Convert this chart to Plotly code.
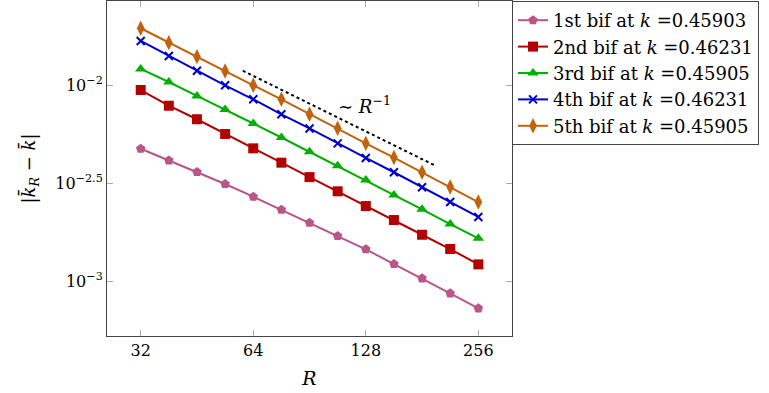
import numpy as np
import plotly.graph_objects as go

R = [32, 38.05, 45.25, 53.82, 64, 76.11, 90.51, 107.63, 128, 152.22, 181.02, 215.27, 256]

bif1 = [4.75e-3, 4.14e-3, 3.61e-3, 3.134e-3, 2.70e-3, 2.316e-3, 1.987e-3, 1.699e-3, 1.453e-3, 1.222e-3, 1.032e-3, 8.65e-4, 7.25e-4]
bif2 = [9.48e-3, 7.88e-3, 6.72e-3, 5.65e-3, 4.77e-3, 4.03e-3, 3.40e-3, 2.876e-3, 2.418e-3, 2.051e-3, 1.725e-3, 1.458e-3, 1.217e-3]
bif3 = [1.215e-2, 1.042e-2, 8.84e-3, 7.54e-3, 6.39e-3, 5.42e-3, 4.58e-3, 3.89e-3, 3.285e-3, 2.754e-3, 2.326e-3, 1.957e-3, 1.654e-3]
bif4 = [1.689e-2, 1.415e-2, 1.190e-2, 1.0024e-2, 8.50e-3, 7.12e-3, 6.03e-3, 5.06e-3, 4.26e-3, 3.60e-3, 3.015e-3, 2.535e-3, 2.126e-3]
bif5 = [1.962e-2, 1.656e-2, 1.404e-2, 1.186e-2, 1.0024e-2, 8.50e-3, 7.13e-3, 6.04e-3, 5.06e-3, 4.28e-3, 3.60e-3, 3.026e-3, 2.535e-3]

labels = ["1st bif at <i>k</i> =0.45903", "2nd bif at <i>k</i> =0.46231",
          "3rd bif at <i>k</i> =0.45905", "4th bif at <i>k</i> =0.46231",
          "5th bif at <i>k</i> =0.45905"]

ref_R = [60, 197]
ref_y = [0.0119, 0.00388]

x_tick_vals = [32, 64, 128, 256]
x_tick_text = ["32", "64", "128", "256"]
y_tick_vals = [1e-3, 10 ** -2.5, 1e-2]
y_tick_text = ["10<sup>−3</sup>", "10<sup>−2.5</sup>", "10<sup>−2</sup>"]

colors = ["#BB5588", "#B30000", "#00B000", "#0000CC", "#C2620F"]
symbols = ["pentagon", "square", "triangle-up", "x-thin", "diamond-tall"]
sizes = [10, 10, 10, 8, 11]

FONT = "DejaVu Serif"

fig = go.Figure()
for ys, lab, c, s, sz in zip([bif1, bif2, bif3, bif4, bif5], labels, colors, symbols, sizes):
    mk = dict(symbol=s, size=sz, color=c)
    if s == "x-thin":
        mk["line"] = dict(color=c, width=2)
    fig.add_trace(go.Scatter(x=R, y=ys, mode="lines+markers", name=lab,
                             line=dict(color=c, width=2), marker=mk))

fig.add_trace(go.Scatter(x=ref_R, y=ref_y, mode="lines", showlegend=False,
                         line=dict(color="black", width=2, dash="dot")))

fig.add_annotation(x=np.log10(127), y=np.log10(7.95e-3), text="∼ <i>R</i><sup>−1</sup>",
                   showarrow=False, font=dict(family=FONT, size=18, color="black"))

axis_common = dict(showline=True, linecolor="#444", linewidth=1, mirror="ticks",
                   ticks="inside", ticklen=6, tickcolor="#aaa", showgrid=False, zeroline=False,
                   tickfont=dict(family=FONT, size=16, color="black"))

fig.update_xaxes(type="log", range=[np.log10(26.0), np.log10(315)],
                 tickvals=x_tick_vals, ticktext=x_tick_text,
                 title=dict(text="<i>R</i>", font=dict(family=FONT, size=19, color="black"), standoff=12),
                 **axis_common)
fig.update_yaxes(type="log", range=[-3.281, -1.568],
                 tickvals=y_tick_vals, ticktext=y_tick_text,
                 title=dict(text="|<i>k̄</i><sub><i>R</i></sub> − <i>k̄</i>|",
                            font=dict(family=FONT, size=18, color="black"), standoff=14),
                 **axis_common)

fig.update_layout(
    width=769, height=393,
    margin=dict(l=107, r=257, t=1, b=57),
    plot_bgcolor="white", paper_bgcolor="white",
    font=dict(family=FONT, size=17, color="black"),
    legend=dict(x=1.0, xanchor="left", y=1.0, yanchor="top",
                bordercolor="#444", borderwidth=1, bgcolor="white",
                font=dict(family=FONT, size=18, color="black"),
                tracegroupgap=0, itemwidth=30),
)

fig.write_html("out.html")
